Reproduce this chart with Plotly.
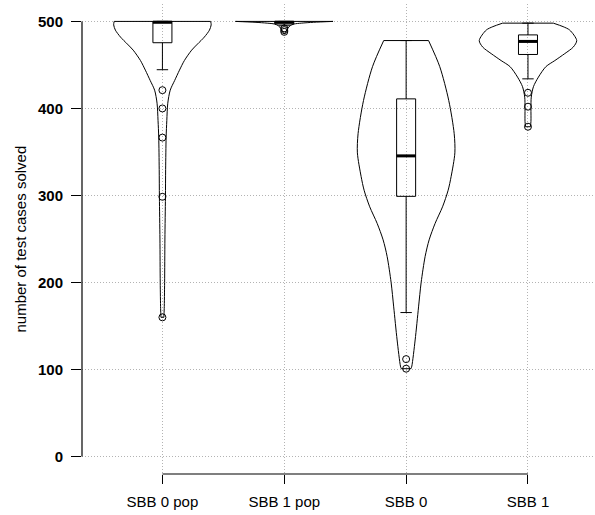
import plotly.graph_objects as go

categories = ["SBB 0 pop", "SBB 1 pop", "SBB 0", "SBB 1"]
positions = [1, 2, 3, 4]
y_ticks = [0, 100, 200, 300, 400, 500]

# violin outlines: value levels (top to bottom) and relative density width (max = 1)
v0pop_levels = [500, 496, 490, 482, 474, 467, 455, 444, 432, 421, 406, 386, 367, 330, 298, 250, 200, 170, 160]
v0pop_width = [0.99, 1.0, 0.965, 0.86, 0.72, 0.6, 0.45, 0.35, 0.25, 0.16, 0.11, 0.09, 0.076, 0.066, 0.062, 0.051, 0.045, 0.037, 0.03]

v1pop_levels = [500, 499, 498, 497, 495, 492, 489, 487, 486]
v1pop_width = [1.0, 0.6, 0.35, 0.2, 0.12, 0.07, 0.04, 0.02, 0.01]

v0_levels = [478, 448, 409, 371, 349, 322, 306, 287, 268, 249, 230, 200, 172, 134, 104, 101]
v0_width = [0.46, 0.69, 0.875, 0.986, 1.0, 0.924, 0.862, 0.747, 0.595, 0.472, 0.39, 0.308, 0.255, 0.185, 0.117, 0.10]

v1_levels = [498, 494, 490, 478, 470.5, 463, 455, 448, 436, 425, 413, 400, 385, 379]
v1_width = [0.52, 0.72, 0.857, 1.0, 0.929, 0.755, 0.551, 0.367, 0.214, 0.112, 0.067, 0.061, 0.061, 0.05]

violins = [
    (v0pop_levels, v0pop_width),
    (v1pop_levels, v1pop_width),
    (v0_levels, v0_width),
    (v1_levels, v1_width),
]

# box statistics
q1 = [475.5, 497, 299, 462]
median = [499, 499, 345.5, 477]
q3 = [500, 500, 411, 484.5]
lowerfence = [444.5, 495, 165.5, 434]
upperfence = [500, 500, 478, 498]

# outliers
out_0pop = [421, 400, 366.5, 298.5, 160]
out_1pop = [492, 490, 488]
out_0 = [112, 101]
out_1 = [418, 402, 379]
outliers = [out_0pop, out_1pop, out_0, out_1]

VIOLIN_HALF = 0.4
BOX_WIDTH = 0.156
FONT = "Liberation Sans, Arial, sans-serif"
FS = 15

fig = go.Figure()

line_style = dict(color="black", width=1)
for pos, (lv, wd) in zip(positions, violins):
    # right and left sides (smooth), then flat top and bottom edges
    for side in (1, -1):
        fig.add_trace(go.Scatter(x=[pos + side * w * VIOLIN_HALF for w in wd], y=lv,
                                 mode="lines", line=dict(color="black", width=1,
                                                         shape="spline", smoothing=0.8),
                                 hoverinfo="skip", showlegend=False))
    for idx in (0, -1):
        fig.add_trace(go.Scatter(x=[pos - wd[idx] * VIOLIN_HALF, pos + wd[idx] * VIOLIN_HALF],
                                 y=[lv[idx], lv[idx]], mode="lines", line=line_style,
                                 hoverinfo="skip", showlegend=False))

fig.add_trace(go.Box(x=positions, q1=q1, median=median, q3=q3,
                     lowerfence=lowerfence, upperfence=upperfence,
                     width=BOX_WIDTH, whiskerwidth=0.6,
                     line=dict(color="black", width=1),
                     fillcolor="rgba(0,0,0,0)", boxpoints=False,
                     showlegend=False))

for pos, m in zip(positions, median):
    fig.add_trace(go.Scatter(x=[pos - BOX_WIDTH / 2, pos + BOX_WIDTH / 2], y=[m, m],
                             mode="lines", line=dict(color="black", width=3),
                             hoverinfo="skip", showlegend=False))

for pos, outs in zip(positions, outliers):
    fig.add_trace(go.Scatter(x=[pos] * len(outs), y=outs, mode="markers",
                             marker=dict(symbol="circle-open", size=7,
                                         color="black", line=dict(width=1)),
                             hoverinfo="skip", showlegend=False))

# axis lines (R style: only between first and last tick)
fig.add_shape(type="line", xref="paper", x0=0, x1=0, yref="y",
              y0=y_ticks[0], y1=y_ticks[-1], line=dict(color="black", width=1.2))
fig.add_shape(type="line", xref="x", x0=positions[0], x1=positions[-1], yref="paper",
              y0=0, y1=0, line=dict(color="black", width=1.2))

fig.add_annotation(text="number of test cases solved", textangle=-90,
                   xref="paper", yref="paper", x=-0.1218, y=0.5,
                   xanchor="center", yanchor="middle", showarrow=False,
                   font=dict(family=FONT, size=FS, color="black"))

fig.update_layout(
    width=595, height=515,
    margin=dict(l=82, r=0, t=4, b=41, autoexpand=False),
    paper_bgcolor="white", plot_bgcolor="white",
    showlegend=False,
    font=dict(family=FONT, size=FS, color="black"),
    xaxis=dict(range=[0.34, 4.55], tickmode="array", tickvals=positions,
               ticktext=categories, showgrid=True, gridcolor="#b3b3b3",
               griddash="1px,2px", gridwidth=1, zeroline=False, showline=False,
               ticks="outside", ticklen=9, tickwidth=1.2, tickcolor="black",
               ticklabelstandoff=5, automargin=False, fixedrange=True),
    yaxis=dict(range=[-20, 520], tickmode="array", tickvals=y_ticks,
               ticktext=[f"<b>{t}</b>" for t in y_ticks],
               showgrid=True, gridcolor="#b3b3b3", griddash="1px,2px", gridwidth=1,
               zeroline=False, showline=False, ticks="outside", ticklen=10,
               tickwidth=1.2, tickcolor="black", ticklabelstandoff=5,
               automargin=False, fixedrange=True),
)

fig.write_html("out.html", config={"displayModeBar": False},
               post_script="document.body.style.margin='0';document.body.style.overflow='hidden';")
